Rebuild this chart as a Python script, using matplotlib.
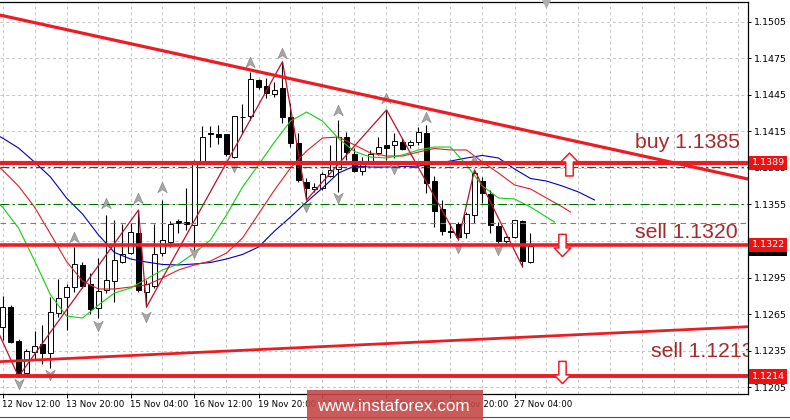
import numpy as np
import matplotlib
matplotlib.use("Agg")
import matplotlib.pyplot as plt
from matplotlib.path import Path
from matplotlib.lines import Line2D
from matplotlib.patches import Rectangle

plt.rcParams["font.family"] = ["DejaVu Sans"]

# EURUSD H4, bar 0 = 12 Nov 12:00 (weekend bars skipped)
opens = [1.12549, 1.12712, 1.12430, 1.12166, 1.12338, 1.12403, 1.12330, 1.12658, 1.12789, 1.12871,
         1.13054, 1.12895, 1.12699, 1.12849, 1.12922, 1.13081, 1.13150, 1.13314, 1.12835, 1.12881,
         1.13150, 1.13245, 1.13414, 1.13410, 1.13382, 1.13888, 1.14132, 1.14125, 1.14125, 1.13942,
         1.14271, 1.14275, 1.14571, 1.14521, 1.14456, 1.14503, 1.14270, 1.14052, 1.13737, 1.13674,
         1.13683, 1.13783, 1.13838, 1.14101, 1.13964, 1.13827, 1.13892, 1.13970, 1.14038, 1.14038,
         1.14065, 1.14038, 1.14065, 1.14134, 1.13745, 1.13510, 1.13332, 1.13390, 1.13314, 1.13464,
         1.13745, 1.13636, 1.13373, 1.13253, 1.13286, 1.13414, 1.13076]
highs = [1.12799, 1.12726, 1.12447, 1.12365, 1.12512, 1.12562, 1.12794, 1.12936, 1.12895, 1.13199,
         1.13081, 1.12986, 1.13109, 1.13464, 1.13423, 1.13390, 1.13396, 1.13505, 1.12931, 1.13390,
         1.13587, 1.13417, 1.13427, 1.13685, 1.13915, 1.14193, 1.14193, 1.14202, 1.14128, 1.14275,
         1.14374, 1.14639, 1.14576, 1.14585, 1.14554, 1.14721, 1.14380, 1.14134, 1.13767, 1.13726,
         1.13819, 1.14038, 1.14243, 1.14147, 1.14011, 1.13942, 1.13997, 1.14106, 1.14325, 1.14134,
         1.14093, 1.14079, 1.14188, 1.14202, 1.13783, 1.13587, 1.13398, 1.13409, 1.13491, 1.13833,
         1.13773, 1.13669, 1.13409, 1.13291, 1.13423, 1.13423, 1.13314]
lows = [1.12439, 1.12412, 1.12139, 1.12156, 1.12275, 1.12242, 1.12207, 1.12630, 1.12521, 1.12835,
        1.12863, 1.12652, 1.12617, 1.12822, 1.12753, 1.13068, 1.13144, 1.12835, 1.12709, 1.12865,
        1.13127, 1.13204, 1.13316, 1.13341, 1.13177, 1.13882, 1.14019, 1.14046, 1.13947, 1.13929,
        1.14138, 1.14243, 1.14494, 1.14421, 1.14434, 1.14216, 1.14024, 1.13737, 1.13587, 1.13655,
        1.13669, 1.13778, 1.13655, 1.13915, 1.13819, 1.13792, 1.13888, 1.13956, 1.13915, 1.13929,
        1.13997, 1.14011, 1.14038, 1.13642, 1.13368, 1.13300, 1.13273, 1.13259, 1.13273, 1.13396,
        1.13560, 1.13314, 1.13236, 1.13226, 1.13273, 1.13040, 1.13068]
closes = [1.12712, 1.12425, 1.12152, 1.12348, 1.12392, 1.12335, 1.12666, 1.12781, 1.12876, 1.13062,
          1.12881, 1.12690, 1.12840, 1.12931, 1.13095, 1.13141, 1.13322, 1.12849, 1.12895, 1.13141,
          1.13259, 1.13390, 1.13402, 1.13390, 1.13888, 1.14106, 1.14128, 1.14106, 1.13961, 1.14275,
          1.14267, 1.14576, 1.14516, 1.14462, 1.14489, 1.14270, 1.14052, 1.13751, 1.13683, 1.13696,
          1.13797, 1.13833, 1.14106, 1.13983, 1.13827, 1.13906, 1.13964, 1.14024, 1.14016, 1.14070,
          1.14002, 1.14065, 1.14147, 1.13729, 1.13499, 1.13335, 1.13324, 1.13286, 1.13472, 1.13810,
          1.13642, 1.13382, 1.13253, 1.13286, 1.13423, 1.13089, 1.13209]

# Alligator (jaw / teeth / lips), read every 2nd bar; they run past the last bar
jaw_bars = [-1] + list(range(0, 75, 2))
jaw_vals = [1.14128,
            1.14095, 1.14013, 1.13898, 1.13775, 1.13603, 1.13472, 1.13300, 1.13156, 1.13103, 1.13078,
            1.13058, 1.13054, 1.13062, 1.13074, 1.13103, 1.13140, 1.13201, 1.13332, 1.13447, 1.13570,
            1.13685, 1.13808, 1.13865, 1.13857, 1.13857, 1.13861, 1.13865, 1.13886, 1.13906, 1.13931,
            1.13952, 1.13931, 1.13841, 1.13763, 1.13742, 1.13701, 1.13652, 1.13587]
teeth_bars = [-1] + list(range(0, 71, 2)) + [71]
teeth_vals = [1.13882,
              1.13833, 1.13701, 1.13529, 1.13308, 1.13083, 1.12922, 1.12857, 1.12857, 1.12873, 1.12890,
              1.12947, 1.13013, 1.13054, 1.13086, 1.13152, 1.13275, 1.13472, 1.13669, 1.13849, 1.13988,
              1.14095, 1.14103, 1.14038, 1.13972, 1.13947, 1.13947, 1.13980, 1.14009, 1.13997, 1.13997,
              1.13898, 1.13808, 1.13710, 1.13677, 1.13603, 1.13529, 1.13488]
lips_bars = [-1] + list(range(0, 69, 2)) + [69]
lips_vals = [1.13587,
             1.13529, 1.13357, 1.13090, 1.12808, 1.12635, 1.12619, 1.12726, 1.12824, 1.12865, 1.12939,
             1.13013, 1.13062, 1.13152, 1.13259, 1.13464, 1.13693, 1.13875, 1.14062, 1.14234, 1.14308,
             1.14234, 1.14091, 1.13985, 1.13939, 1.13931, 1.13956, 1.13997, 1.14021, 1.14021, 1.13874,
             1.13701, 1.13603, 1.13595, 1.13529, 1.13447, 1.13406]

# zigzag swing points
zz_bars = [-1, 2, 17, 18, 35, 38, 48, 57, 59, 65]
zz_vals = [1.12570, 1.12139, 1.13505, 1.12709, 1.14721, 1.13587, 1.14325, 1.13259, 1.13833, 1.13040]

# fractal arrows
up_frac_bars = [9, 13, 17, 20, 31, 35, 42, 48, 53, 59]
up_frac_vals = [1.13286, 1.13562, 1.13599, 1.13697, 1.14722, 1.14792, 1.14325, 1.14423, 1.14270, 1.13915]
dn_frac_bars = [2, 6, 12, 18, 24, 29, 38, 42, 49, 57, 62]
dn_frac_vals = [1.12078, 1.12148, 1.12553, 1.12630, 1.13148, 1.13857, 1.13529, 1.13599, 1.13841, 1.13191, 1.13177]

# drawn objects
down_trend = ([-1, 94], [1.15113, 1.13747])
up_trend = ([-1, 94], [1.12259, 1.12550])
levels = [1.1389, 1.1322, 1.1214]
level_tags = ["1.1389", "1.1322", "1.1214"]
green_levels = [1.1386, 1.1355]
orange_level = 1.1340
bid = 1.1319
signal_up = (70.8, 1.13885)
signal_down = [(70.0, 1.13218), (70.0, 1.12180)]
shift_bar = 68

yticks = [1.1205, 1.1235, 1.1265, 1.1295, 1.1325, 1.1355, 1.1385, 1.1415, 1.1445, 1.1475, 1.1505]
xtick_bars = [0, 8, 16, 24, 32, 40, 48, 56, 64]
xtick_labels = ["12 Nov 12:00", "13 Nov 20:00", "15 Nov 04:00", "16 Nov 12:00", "19 Nov 20:00",
                "21 Nov 04:00", "22 Nov 12:00", "23 Nov 20:00", "27 Nov 04:00"]

RED = "#ec1c24"
TXT = "#a52a2a"

fig = plt.figure(figsize=(7.9, 4.2), dpi=100)
ax = fig.add_axes([0.0, 26 / 420, 748 / 790, 392 / 420])
ax.set_xlim(-0.3125, 93.1875)
ax.set_ylim(1.119958, 1.152102)

# grid
ax.set_yticks(yticks)
ax.set_yticklabels([f"{v:.4f}" for v in yticks])
ax.set_xticks(xtick_bars)
ax.set_xticklabels(xtick_labels)
ax.set_xticks(list(range(0, 96, 4)), minor=True)
ax.grid(True, which="both", axis="x", color="#c4c4c4", ls=(0, (3, 3)), lw=0.7, zorder=0)
ax.grid(True, which="major", axis="y", color="#c4c4c4", ls=(0, (3, 3)), lw=0.7, zorder=0)
ax.set_axisbelow(True)

ax.yaxis.tick_right()
ax.tick_params(axis="y", which="major", direction="out", length=2.5, width=0.7, pad=1.5,
               labelsize=6.8, colors="black")
ax.tick_params(axis="x", which="major", direction="out", length=3, width=0.7, pad=1.5,
               labelsize=6.2)
ax.tick_params(axis="x", which="minor", length=0)
for lab in ax.get_xticklabels():
    lab.set_ha("left")
ax.spines["left"].set_visible(False)
for side in ["top", "right", "bottom"]:
    ax.spines[side].set_linewidth(0.9)

# candles
x = np.arange(len(opens))
o = np.array(opens); c = np.array(closes); h = np.array(highs); l = np.array(lows)
bull = c >= o
ax.vlines(x, l, h, color="black", lw=0.8, zorder=3)
ax.bar(x, np.maximum(np.abs(c - o), 0.00003), bottom=np.minimum(o, c), width=0.56,
       color=np.where(bull, "white", "black"), edgecolor="black", lw=0.7, zorder=3.2)

# alligator + zigzag
ax.plot(jaw_bars, jaw_vals, color="#0000b4", lw=0.8, zorder=4)
ax.plot(teeth_bars, teeth_vals, color="#e01e26", lw=0.8, zorder=4)
ax.plot(lips_bars, lips_vals, color="#10d010", lw=0.8, zorder=4)
ax.plot(zz_bars, zz_vals, color="#b8122c", lw=0.9, zorder=4.2)

# fractal arrows
up_head = Path([(0, 1), (0.9, -1), (0, -0.4), (-0.9, -1), (0, 1)],
               [Path.MOVETO, Path.LINETO, Path.LINETO, Path.LINETO, Path.CLOSEPOLY])
dn_head = Path([(0, -1), (0.9, 1), (0, 0.4), (-0.9, 1), (0, -1)],
               [Path.MOVETO, Path.LINETO, Path.LINETO, Path.LINETO, Path.CLOSEPOLY])
ax.plot(up_frac_bars, up_frac_vals, ls="none", marker=up_head, ms=7.5,
        mfc="#a8a8a8", mec="#8a8a8a", mew=0.5, zorder=4.5)
ax.plot(dn_frac_bars, dn_frac_vals, ls="none", marker=dn_head, ms=7.5,
        mfc="#a8a8a8", mec="#8a8a8a", mew=0.5, zorder=4.5)
ax.plot([shift_bar], [1.15205], ls="none", marker="v", ms=6, mfc="#b0b0b0", mec="#b0b0b0",
        zorder=4.5, clip_on=False)

# levels and trend lines
ax.axhline(green_levels[0], color="#007000", lw=0.8, ls=(0, (8, 3, 2, 3)), zorder=4.6)
ax.axhline(green_levels[1], color="#007000", lw=0.8, ls=(0, (8, 3, 2, 3)), zorder=4.6)
ax.axhline(orange_level, color="#e0601a", lw=0.8, ls=(0, (5, 4)), zorder=4.6)
for lv, w in zip(levels, [3.0, 2.6, 2.8]):
    ax.axhline(lv, color=RED, lw=w, zorder=5)
ax.plot(*down_trend, color=RED, lw=2.3, zorder=5)
ax.plot(*up_trend, color=RED, lw=2.0, zorder=5)

# signal arrows
blk_up = Path([(-0.33, -1), (0.33, -1), (0.33, 0.22), (0.75, 0.22), (0, 1), (-0.75, 0.22),
               (-0.33, 0.22), (-0.33, -1)],
              [Path.MOVETO] + [Path.LINETO] * 6 + [Path.CLOSEPOLY])
blk_dn = Path([(px, -py) for px, py in blk_up.vertices], blk_up.codes)
ax.plot([signal_up[0]], [signal_up[1]], ls="none", marker=blk_up, ms=16.5,
        mfc="white", mec=RED, mew=1.1, zorder=6)
ax.plot([p[0] for p in signal_down], [p[1] for p in signal_down], ls="none", marker=blk_dn,
        ms=16, mfc="white", mec=RED, mew=1.1, zorder=6)

# chart texts
lab_font = dict(family=["Liberation Sans", "DejaVu Sans"], fontsize=15.3, color=TXT, zorder=6)
ax.text(92.19, 1.14014, "buy 1.1385", ha="right", va="baseline", **lab_font)
ax.text(91.94, 1.13275, "sell 1.1320", ha="right", va="baseline", **lab_font)
ax.text(81.06, 1.12299, "sell 1.1213", ha="left", va="baseline", clip_on=True, **lab_font)

# price tags on the scale
def price_tag(val, text, fc):
    ax.annotate(text, xy=(1.0, val), xycoords=("axes fraction", "data"), xytext=(2.6, 0),
                textcoords="offset points", ha="left", va="center", fontsize=6.8, color="white",
                bbox=dict(boxstyle="square,pad=0.28", fc=fc, ec=fc, lw=0),
                zorder=10, annotation_clip=False)

price_tag(bid, f"{bid:.4f}", "black")
for lv, t in zip(levels, level_tags):
    price_tag(lv, t, "#f01010")

# frame bottom line and watermark
fig.add_artist(Line2D([0, 1], [3 / 420, 3 / 420], transform=fig.transFigure, color="#505050", lw=0.8))
fig.add_artist(Rectangle((307 / 790, 0), 176 / 790, 30 / 420, transform=fig.transFigure,
                         fc="#c64949", ec="none", alpha=0.9, zorder=20))
fig.text(393.5 / 790, (420 - 411) / 420, "www.instaforex.com", ha="center", va="baseline",
         color="white", fontsize=12.3, family=["Liberation Sans", "DejaVu Sans"], zorder=21)

fig.savefig("out.png", dpi=100)
